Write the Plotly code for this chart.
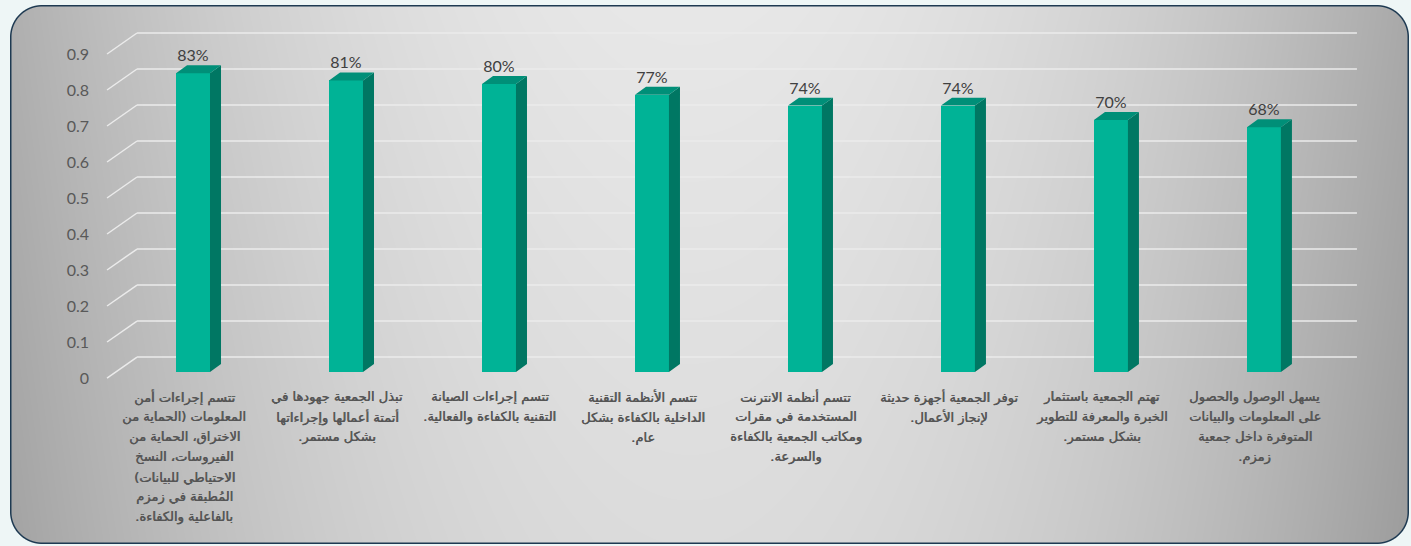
import base64, struct, zlib
import numpy as np
import plotly.graph_objects as go

# ---------------- data ----------------
categories = [
    "تتسم إجراءات أمن\nالمعلومات (الحماية من\nالاختراق، الحماية من\nالفيروسات، النسخ\nالاحتياطي للبيانات)\nالمُطبقة في زمزم\nبالفاعلية والكفاءة.",
    "تبذل الجمعية جهودها في\nأتمتة أعمالها وإجراءاتها\nبشكل مستمر.",
    "تتسم إجراءات الصيانة\nالتقنية بالكفاءة والفعالية.",
    "تتسم الأنظمة التقنية\nالداخلية بالكفاءة بشكل\nعام.",
    "تتسم أنظمة الانترنت\nالمستخدمة في مقرات\nومكاتب الجمعية بالكفاءة\nوالسرعة.",
    "توفر الجمعية أجهزة حديثة\nلإنجاز الأعمال.",
    "تهتم الجمعية باستثمار\nالخبرة والمعرفة للتطوير\nبشكل مستمر.",
    "يسهل الوصول والحصول\nعلى المعلومات والبيانات\nالمتوفرة داخل جمعية\nزمزم.",
]
values = [0.83, 0.81, 0.80, 0.77, 0.74, 0.74, 0.70, 0.68]
value_labels = ["83%", "81%", "80%", "77%", "74%", "74%", "70%", "68%"]
y_ticks = [0, 0.1, 0.2, 0.3, 0.4, 0.5, 0.6, 0.7, 0.8, 0.9]
y_tick_text = ["0", "0.1", "0.2", "0.3", "0.4", "0.5", "0.6", "0.7", "0.8", "0.9"]

# ---------------- style ----------------
W, H = 1411, 546
FRONT = "#00B396"
SIDE = "#007763"
TOP = "#008F78"
BAR_W = 0.222
DX, DY = 0.072, 0.022          # bar depth offsets
BASE = 0.0167                  # bar sits slightly back from front edge
GDX0, GDX1, GDX2 = -0.562, -0.366, 7.608   # gridline geometry (x)
GDY = 0.0583                   # gridline back-wall offset (y)
XR = [-0.608, 7.824]
YR = [-0.0194, 0.9944]
ML, MR, MT, MB = 100, 21, 20, 161

# ---------------- background image ----------------
yy, xx = np.mgrid[0:H, 0:W].astype(float) + 0.5
x0, y0, x1, y1, r = 10.0, 5.0, 1409.0, 544.0, 32.0
cx, cy = (x0 + x1) / 2, (y0 + y1) / 2
hx, hy = (x1 - x0) / 2 - r, (y1 - y0) / 2 - r
qx, qy = np.abs(xx - cx) - hx, np.abs(yy - cy) - hy
d = np.sqrt(np.maximum(qx, 0) ** 2 + np.maximum(qy, 0) ** 2) + np.minimum(np.maximum(qx, qy), 0) - r

outer = np.array([238, 246, 246], float)
border = np.array([30, 58, 82], float)
g = 232 - 60 * ((xx - 690) / 700) ** 2 - 12 * (yy / H)
fill = np.stack([g, g, g], axis=-1)

bcov = np.clip(0.5 - d, 0, 1)[..., None]
fcov = np.clip(-1.0 - d, 0, 1)[..., None]
img = outer * (1 - bcov) + border * bcov
img = img * (1 - fcov) + fill * fcov
img = np.clip(img, 0, 255).astype(np.uint8)

raw = b"".join(b"\x00" + img[i].tobytes() for i in range(H))
def chunk(t, data):
    c = struct.pack(">I", len(data)) + t + data
    return c + struct.pack(">I", zlib.crc32(t + data) & 0xffffffff)
png = b"\x89PNG\r\n\x1a\n" + chunk(b"IHDR", struct.pack(">IIBBBBB", W, H, 8, 2, 0, 0, 0)) \
    + chunk(b"IDAT", zlib.compress(raw, 9)) + chunk(b"IEND", b"")
src = "data:image/png;base64," + base64.b64encode(png).decode()

pw, ph = W - ML - MR, H - MT - MB

fig = go.Figure()

# front faces
xs = list(range(len(values)))
fig.add_trace(go.Bar(x=xs, y=values, base=BASE, width=BAR_W,
                     marker=dict(color=FRONT, line=dict(width=0)), hoverinfo="skip"))

# side and top faces
sx, sy, tx, ty = [], [], [], []
for i, v in zip(xs, values):
    r_ = i + BAR_W / 2
    l_ = i - BAR_W / 2
    sx += [r_, r_ + DX, r_ + DX, r_, r_, None]
    sy += [BASE, BASE + DY, v + BASE + DY, v + BASE, BASE, None]
    tx += [l_, r_, r_ + DX, l_ + DX, l_, None]
    ty += [v + BASE, v + BASE, v + BASE + DY, v + BASE + DY, v + BASE, None]
fig.add_trace(go.Scatter(x=sx, y=sy, fill="toself", fillcolor=SIDE, mode="lines",
                         line=dict(width=0, color=SIDE), hoverinfo="skip"))
fig.add_trace(go.Scatter(x=tx, y=ty, fill="toself", fillcolor=TOP, mode="lines",
                         line=dict(width=0, color=TOP), hoverinfo="skip"))

# value labels
fig.add_trace(go.Scatter(x=xs, y=[v + BASE + DY for v in values], mode="text",
                         text=value_labels, textposition="top center",
                         textfont=dict(family="Lato", size=16, color="#404040"),
                         cliponaxis=False, hoverinfo="skip"))

# gridlines (3D wall)
shapes = []
for t in y_ticks:
    shapes.append(dict(type="line", xref="x", yref="y", x0=GDX0, y0=t, x1=GDX1, y1=t + GDY,
                       line=dict(color="#ebebeb", width=1.5), layer="below"))
    shapes.append(dict(type="line", xref="x", yref="y", x0=GDX1, y0=t + GDY, x1=GDX2, y1=t + GDY,
                       line=dict(color="#ebebeb", width=1.5), layer="below"))

# category labels
annotations = []
RLM = "\u200f"
for i, cat in enumerate(categories):
    for j, line in enumerate(cat.split("\n")):
        annotations.append(dict(x=i, y=0, xref="x", yref="y", text=line + RLM,
                                showarrow=False, xanchor="center", yanchor="middle",
                                xshift=-9, yshift=-19 - 20 * j,
                                font=dict(family="DejaVu Sans", size=13, color="#555555",
                                          shadow="0.6px 0px 0px #555555")))

fig.update_layout(
    width=W, height=H,
    margin=dict(l=ML, r=MR, t=MT, b=MB, pad=0),
    paper_bgcolor="white", plot_bgcolor="rgba(0,0,0,0)",
    showlegend=False, bargap=0,
    shapes=shapes, annotations=annotations,
    images=[dict(source=src, xref="paper", yref="paper",
                 x=-ML / pw, y=1 + MT / ph, sizex=W / pw, sizey=H / ph,
                 xanchor="left", yanchor="top", sizing="stretch", layer="below")],
    xaxis=dict(range=XR, showgrid=False, zeroline=False, showline=False,
               showticklabels=False, ticks="", fixedrange=True),
    yaxis=dict(range=YR, showgrid=False, zeroline=False, showline=False,
               tickvals=y_ticks, ticktext=y_tick_text, ticks="", ticklabelstandoff=10,
               tickfont=dict(family="Lato", size=16, color="#595959"), fixedrange=True),
)

fig.write_html("out.html", config={"displayModeBar": False},
               post_script="document.body.style.margin='0';document.body.style.overflow='hidden';")
